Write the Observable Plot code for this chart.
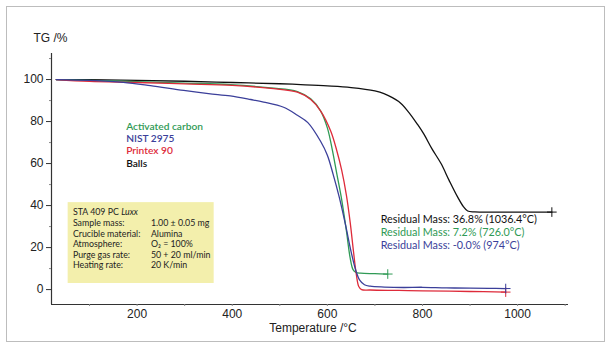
<!DOCTYPE html>
<html>
<head>
<meta charset="utf-8">
<script src="https://cdn.jsdelivr.net/npm/d3@7"></script>
<script src="https://cdn.jsdelivr.net/npm/@observablehq/plot@0.6"></script>
<style>
  html, body { margin: 0; padding: 0; background: #fff; }
  #wrap { position: relative; width: 612px; height: 348px; }
  #frame { position: absolute; left: 6px; top: 6px; width: 597px; height: 334px; border: 1.5px solid #bdbdbd; pointer-events: none; }
  #chart { position: absolute; left: 0; top: 0; }
</style>
</head>
<body>
<div id="wrap"><div id="chart"></div><div id="frame"></div></div>
<script>
// ---- Data ----
const seriesNames = ["Activated carbon", "NIST 2975", "Printex 90", "Balls"];
const seriesColors = ["#2f9a55", "#3b3f9a", "#de2b3a", "#111111"];

const balls_T  = [30, 100, 200, 300, 400, 500, 544, 600, 650, 700, 719, 750, 769, 790, 803, 820, 839, 856, 874, 886, 895, 910, 950, 1000, 1072];
const balls_TG = [100, 99.9, 99.6, 99.2, 98.6, 98.0, 97.6, 97.0, 96.2, 94.6, 93.3, 89.5, 85, 78.5, 74, 67, 60, 52, 44, 39.5, 37.4, 37.0, 36.9, 36.9, 36.9];

const carbon_T  = [30, 100, 200, 300, 396, 481, 537, 565, 586, 600, 610, 620, 630, 640, 648, 654, 660, 670, 700, 727];
const carbon_TG = [100, 99.6, 99.0, 98.3, 97.6, 96.0, 94.3, 90.8, 85, 77, 67, 55, 43, 28, 15, 9.5, 8.2, 7.8, 7.6, 7.4];

const printex_T  = [30, 100, 200, 300, 400, 481, 537, 565, 586, 607, 620, 630, 640, 648, 655, 661, 666, 672, 690, 750, 800, 900, 975];
const printex_TG = [100, 99.1, 98.6, 97.9, 97.2, 95.8, 94.0, 90.5, 85, 75.5, 66, 57, 45, 32, 18, 7, 1.5, 0.0, -0.2, -0.4, -0.6, -0.9, -1.2];

const nist_T  = [30, 100, 171, 228, 298, 350, 396, 439, 466, 508, 537, 559, 586, 600, 612, 625, 638, 650, 660, 668, 678, 690, 720, 760, 800, 850, 900, 940, 975];
const nist_TG = [100, 99.6, 98.7, 97.1, 94.8, 93.3, 92.2, 90.5, 89.3, 86.8, 83, 79.5, 70.5, 64, 55, 44, 31, 18, 9, 4.5, 2.3, 1.6, 1.2, 1.0, 1.1, 0.8, 0.7, 0.6, 0.5];

const xMajor = [200, 400, 600, 800, 1000];
const xMinor = [100, 300, 500, 700, 900, 1100];
const yMajor = [0, 20, 40, 60, 80, 100];
const yMinor = [10, 30, 50, 70, 90, 110];
const xDomain = [20, 1107];
const yDomain = [-7.1, 112.4];

const residualTexts = ["Residual Mass: 36.8% (1036.4°C)", "Residual Mass: 7.2% (726.0°C)", "Residual Mass: -0.0% (974°C)"];
const residualColors = ["#111111", "#2f9a55", "#3b3f9a"];

const infoLabels = ["STA 409 PC Luxx", "Sample mass:", "Crucible material:", "Atmosphere:", "Purge gas rate:", "Heating rate:"];
const infoValues = ["", "1.00 ± 0.05 mg", "Alumina", "O₂ = 100%", "50 + 20 ml/min", "20 K/min"];

// ---- Build tables ----
function toRows(name, T, TG) { return T.map((t, i) => ({series: name, T: t, TG: TG[i]})); }
const curves = [
  toRows("Balls", balls_T, balls_TG),
  toRows("Activated carbon", carbon_T, carbon_TG),
  toRows("Printex 90", printex_T, printex_TG),
  toRows("NIST 2975", nist_T, nist_TG)
];
const allRows = curves.flat();
const endPoints = curves.map(c => c[c.length - 1]);

// annotation anchor positions (in data units)
const legendRows = seriesNames.map((s, i) => ({s, T: 177, TG: 77.6 - i * 5.85}));
const residualRows = residualTexts.map((s, i) => ({s, c: residualColors[i], T: 712, TG: 33.3 - i * 6.1}));
const infoRows = infoLabels.map((s, i) => ({s, v: infoValues[i], TG: 36.7 - i * 5.05}));

const font = "Lato, 'Open Sans', sans-serif";

const plot = Plot.plot({
  width: 612,
  height: 348,
  marginLeft: 51,
  marginRight: 44,
  marginTop: 53,
  marginBottom: 44,
  style: {fontFamily: "'Liberation Sans', Arial, sans-serif", fontSize: "12px", background: "transparent", color: "#222"},
  x: {domain: xDomain},
  y: {domain: yDomain},
  color: {domain: seriesNames, range: seriesColors},
  marks: [
    // info box
    Plot.rect([{x1: 55, x2: 362, y1: 2.9, y2: 41.4}], {x1: "x1", x2: "x2", y1: "y1", y2: "y2", fill: "#f3efac"}),
    Plot.text(infoRows, {x: 65, y: "TG", text: "s", textAnchor: "start", fontSize: 8.8, fontFamily: font, fill: "#222"}),
    Plot.text(infoRows, {x: 229, y: "TG", text: "v", textAnchor: "start", fontSize: 8.8, fontFamily: font, fill: "#222"}),
    // axes lines
    Plot.ruleX([xDomain[0]], {stroke: "#333", strokeWidth: 1.2}),
    Plot.ruleY([yDomain[0]], {stroke: "#333", strokeWidth: 1.2}),
    Plot.axisY({ticks: yMajor, tickSize: 5, tickPadding: 3, tickFormat: d => String(d), label: null, fontSize: 12, stroke: "#333"}),
    Plot.axisY({ticks: yMinor, tickSize: 2, tickFormat: () => "", label: null, stroke: "#888"}),
    Plot.axisX({ticks: xMajor, tickSize: 2, tickPadding: 3, tickFormat: d => String(d), label: null, fontSize: 12, stroke: "#888"}),
    Plot.axisX({ticks: xMinor, tickSize: 2, tickFormat: () => "", label: null, stroke: "#888"}),
    Plot.text(["TG /%"], {frameAnchor: "top-left", dx: -18, dy: -20, textAnchor: "start", fontSize: 12}),
    Plot.text(["Temperature /°C"], {frameAnchor: "bottom", dx: 3, dy: 27, fontSize: 12}),
    // curves
    Plot.line(allRows, {x: "T", y: "TG", z: "series", stroke: "series", strokeWidth: 1.3, curve: "catmull-rom"}),
    Plot.dot(endPoints, {x: "T", y: "TG", stroke: "series", symbol: "plus", r: 3.2, strokeWidth: 1}),
    // legend text
    Plot.text(legendRows, {x: "T", y: "TG", text: "s", fill: (d) => d.s, textAnchor: "start", fontSize: 10.2, fontWeight: 600, fontFamily: font}),
    // residual texts
    Plot.text(residualRows, {x: "T", y: "TG", text: "s", fill: "c", textAnchor: "start", fontSize: 10.8, fontFamily: font})
  ]
});

// italic "Luxx"
d3.select(plot).selectAll("text").filter(function() { return this.textContent === "STA 409 PC Luxx"; })
  .each(function() {
    const t = d3.select(this);
    t.text(null);
    t.append("tspan").text("STA 409 PC ");
    t.append("tspan").attr("font-style", "italic").text("Luxx");
  });

document.getElementById("chart").appendChild(plot);
</script>
</body>
</html>
